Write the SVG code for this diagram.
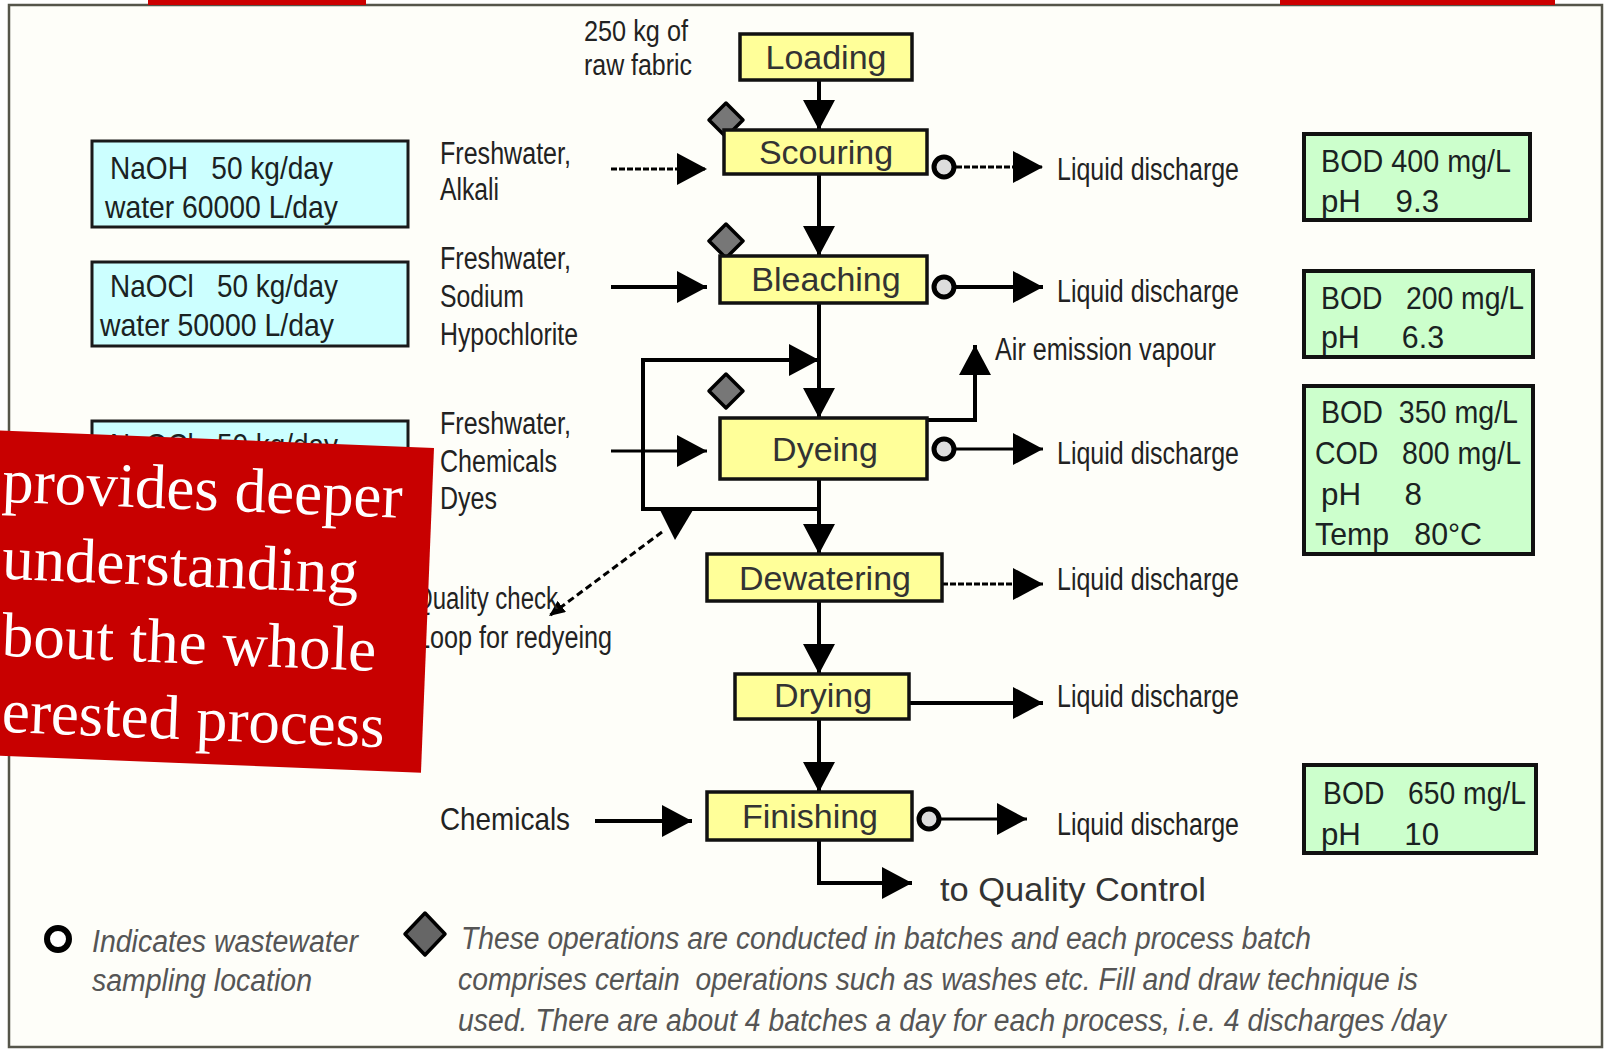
<svg xmlns="http://www.w3.org/2000/svg" width="1606" height="1051" viewBox="0 0 1606 1051">
<defs>
<style>
.frame{fill:#fefef9;stroke:#55554a;stroke-width:2.5}
.proc{fill:#ffff99;stroke:#111;stroke-width:3.5}
.ptxt{font-family:"Liberation Sans",Arial,sans-serif;font-size:34px;fill:#333;text-anchor:middle}
.lbl{font-family:"Liberation Sans",Arial,sans-serif;font-size:31px;fill:#222}
.blue{fill:#ccffff;stroke:#1a1a1a;stroke-width:3}
.green{fill:#ccffcc;stroke:#111;stroke-width:4}
.btxt{font-family:"Liberation Sans",Arial,sans-serif;font-size:32px;fill:#1a2222}
.leg{font-family:"Liberation Sans",Arial,sans-serif;font-size:31px;font-style:italic;fill:#555}
.conn{stroke:#000;stroke-width:4;fill:none}
.thin{stroke-width:3}
.dash{stroke-dasharray:6 2;stroke-width:3}
.ring{fill:#ddd;stroke:#000;stroke-width:5}
.dia{fill:#777;stroke:#000;stroke-width:3.5;stroke-linejoin:round}
.over{font-family:"Liberation Serif","Times New Roman",serif;font-size:63px;fill:#fff}
</style>
<marker id="ah" viewBox="0 0 30 32" refX="30" refY="16" markerWidth="30" markerHeight="32" markerUnits="userSpaceOnUse" orient="auto"><path d="M0,0 L30,16 L0,32 Z" fill="#000"/></marker>
<marker id="ahs" viewBox="0 0 16 14" refX="16" refY="7" markerWidth="16" markerHeight="14" markerUnits="userSpaceOnUse" orient="auto"><path d="M0,0 L16,7 L0,14 Z" fill="#000"/></marker>
</defs>
<rect x="0" y="0" width="1606" height="1051" fill="#fff"/>
<rect class="frame" x="9" y="5" width="1593" height="1042"/>
<rect x="148" y="0" width="218" height="5" fill="#cc0000"/>
<rect x="1280" y="0" width="275" height="5" fill="#cc0000"/>

<g id="connectors">
<path class="conn" d="M819,80 V130" marker-end="url(#ah)"/>
<path class="conn" d="M819,174 V256" marker-end="url(#ah)"/>
<path class="conn" d="M819,303 V418" marker-end="url(#ah)"/>
<path class="conn" d="M819,479 V554" marker-end="url(#ah)"/>
<path class="conn" d="M819,509 H643 V360 H819" marker-end="url(#ah)"/>
<path class="conn" d="M819,601 V674" marker-end="url(#ah)"/>
<path class="conn" d="M819,719 V792" marker-end="url(#ah)"/>
<path class="conn" d="M819,840 V883 H912" marker-end="url(#ah)"/>
<path class="conn" d="M927,420 H975 V345" marker-end="url(#ah)"/>
<path class="conn dash" d="M611,169 H707" marker-end="url(#ah)"/>
<path class="conn" d="M611,287 H707" marker-end="url(#ah)"/>
<path class="conn thin" d="M611,451 H707" marker-end="url(#ah)"/>
<path class="conn" d="M595,821 H692" marker-end="url(#ah)"/>
<path class="conn dash" d="M956,167 H1043" marker-end="url(#ah)"/>
<path class="conn" d="M956,287 H1043" marker-end="url(#ah)"/>
<path class="conn thin" d="M956,449 H1043" marker-end="url(#ah)"/>
<path class="conn dash" d="M942,584 H1043" marker-end="url(#ah)"/>
<path class="conn" d="M909,703 H1043" marker-end="url(#ah)"/>
<path class="conn thin" d="M941,819 H1027" marker-end="url(#ah)"/>
<path class="conn" d="M662,532 L549,616" style="stroke-width:3;stroke-dasharray:7 4" marker-end="url(#ahs)"/>
<polygon points="660,510 693,510 675,540" fill="#000"/>
</g>

<g id="sampling-points">
<circle class="ring" cx="944" cy="167" r="10"/>
<circle class="ring" cx="944" cy="287" r="10"/>
<circle class="ring" cx="944" cy="449" r="10"/>
<circle class="ring" cx="929" cy="819" r="10"/>
</g>

<g id="batch-markers">
<polygon class="dia" points="726,103 743,120 726,137 709,120"/>
<polygon class="dia" points="726,224 743,241 726,258 709,241"/>
<polygon class="dia" points="726,374 743,391 726,408 709,391"/>
</g>

<g id="loading"><rect class="proc" x="740" y="34" width="172" height="46"/><text class="ptxt" x="826" y="69">Loading</text></g>
<g id="scouring"><rect class="proc" x="724" y="130" width="203" height="44"/><text class="ptxt" x="826" y="164">Scouring</text></g>
<g id="bleaching"><rect class="proc" x="720" y="256" width="207" height="47"/><text class="ptxt" x="826" y="291">Bleaching</text></g>
<g id="dyeing"><rect class="proc" x="720" y="418" width="207" height="61"/><text class="ptxt" x="825" y="461">Dyeing</text></g>
<g id="dewatering"><rect class="proc" x="707" y="554" width="235" height="47"/><text class="ptxt" x="825" y="590">Dewatering</text></g>
<g id="drying"><rect class="proc" x="735" y="674" width="174" height="45"/><text class="ptxt" x="823" y="707">Drying</text></g>
<g id="finishing"><rect class="proc" x="707" y="792" width="205" height="48"/><text class="ptxt" x="810" y="828">Finishing</text></g>

<g id="input-naoh"><rect class="blue" x="92" y="141" width="316" height="86"/>
<text class="btxt" x="110" y="179" textLength="223" lengthAdjust="spacingAndGlyphs">NaOH&#160;&#160; 50 kg/day</text>
<text class="btxt" x="105" y="218" textLength="233" lengthAdjust="spacingAndGlyphs">water 60000 L/day</text></g>
<g id="input-naocl"><rect class="blue" x="92" y="262" width="316" height="84"/>
<text class="btxt" x="110" y="297" textLength="228" lengthAdjust="spacingAndGlyphs">NaOCl&#160;&#160; 50 kg/day</text>
<text class="btxt" x="100" y="336" textLength="234" lengthAdjust="spacingAndGlyphs">water 50000 L/day</text></g>
<g id="input-dyeing"><rect class="blue" x="92" y="421" width="316" height="86"/>
<text class="btxt" x="110" y="456" textLength="228" lengthAdjust="spacingAndGlyphs">NaOCl&#160;&#160; 50 kg/day</text></g>

<g id="quality-scouring"><rect class="green" x="1304" y="134" width="226" height="86"/>
<text class="btxt" x="1321" y="172" textLength="190" lengthAdjust="spacingAndGlyphs">BOD 400 mg/L</text>
<text class="btxt" x="1321" y="212" textLength="118" lengthAdjust="spacingAndGlyphs">pH&#160;&#160;&#160; 9.3</text></g>
<g id="quality-bleaching"><rect class="green" x="1304" y="271" width="229" height="86"/>
<text class="btxt" x="1321" y="309" textLength="203" lengthAdjust="spacingAndGlyphs">BOD&#160;&#160; 200 mg/L</text>
<text class="btxt" x="1321" y="348" textLength="123" lengthAdjust="spacingAndGlyphs">pH&#160;&#160;&#160;&#160; 6.3</text></g>
<g id="quality-dyeing"><rect class="green" x="1304" y="386" width="229" height="168"/>
<text class="btxt" x="1321" y="423" textLength="197" lengthAdjust="spacingAndGlyphs">BOD&#160; 350 mg/L</text>
<text class="btxt" x="1315" y="464" textLength="206" lengthAdjust="spacingAndGlyphs">COD&#160;&#160; 800 mg/L</text>
<text class="btxt" x="1321" y="505" textLength="101" lengthAdjust="spacingAndGlyphs">pH&#160;&#160;&#160;&#160; 8</text>
<text class="btxt" x="1315" y="545" textLength="167" lengthAdjust="spacingAndGlyphs">Temp&#160;&#160; 80°C</text></g>
<g id="quality-finishing"><rect class="green" x="1304" y="765" width="232" height="88"/>
<text class="btxt" x="1323" y="804" textLength="203" lengthAdjust="spacingAndGlyphs">BOD&#160;&#160; 650 mg/L</text>
<text class="btxt" x="1321" y="845" textLength="118" lengthAdjust="spacingAndGlyphs">pH&#160;&#160;&#160;&#160; 10</text></g>

<g id="labels">
<text class="lbl" x="584" y="41" style="font-size:29px" textLength="104" lengthAdjust="spacingAndGlyphs">250 kg of</text>
<text class="lbl" x="584" y="75" style="font-size:29px" textLength="108" lengthAdjust="spacingAndGlyphs">raw fabric</text>
<text class="lbl" x="440" y="164" textLength="131" lengthAdjust="spacingAndGlyphs">Freshwater,</text>
<text class="lbl" x="440" y="200" textLength="59" lengthAdjust="spacingAndGlyphs">Alkali</text>
<text class="lbl" x="440" y="269" textLength="131" lengthAdjust="spacingAndGlyphs">Freshwater,</text>
<text class="lbl" x="440" y="307" textLength="84" lengthAdjust="spacingAndGlyphs">Sodium</text>
<text class="lbl" x="440" y="345" textLength="138" lengthAdjust="spacingAndGlyphs">Hypochlorite</text>
<text class="lbl" x="440" y="434" textLength="131" lengthAdjust="spacingAndGlyphs">Freshwater,</text>
<text class="lbl" x="440" y="472" textLength="117" lengthAdjust="spacingAndGlyphs">Chemicals</text>
<text class="lbl" x="440" y="509" textLength="57" lengthAdjust="spacingAndGlyphs">Dyes</text>
<text class="lbl" x="414" y="609" textLength="144" lengthAdjust="spacingAndGlyphs">Quality check</text>
<text class="lbl" x="416" y="648" textLength="196" lengthAdjust="spacingAndGlyphs">Loop for redyeing</text>
<text class="lbl" x="440" y="830" style="font-size:32px" textLength="130" lengthAdjust="spacingAndGlyphs">Chemicals</text>
<text class="lbl" x="1057" y="180" textLength="182" lengthAdjust="spacingAndGlyphs">Liquid discharge</text>
<text class="lbl" x="1057" y="302" textLength="182" lengthAdjust="spacingAndGlyphs">Liquid discharge</text>
<text class="lbl" x="1057" y="464" textLength="182" lengthAdjust="spacingAndGlyphs">Liquid discharge</text>
<text class="lbl" x="1057" y="590" textLength="182" lengthAdjust="spacingAndGlyphs">Liquid discharge</text>
<text class="lbl" x="1057" y="707" textLength="182" lengthAdjust="spacingAndGlyphs">Liquid discharge</text>
<text class="lbl" x="1057" y="835" textLength="182" lengthAdjust="spacingAndGlyphs">Liquid discharge</text>
<text class="lbl" x="995" y="360" textLength="221" lengthAdjust="spacingAndGlyphs">Air emission vapour</text>
<text class="lbl" x="940" y="901" style="font-size:34px;fill:#333" textLength="266" lengthAdjust="spacingAndGlyphs">to Quality Control</text>
</g>

<g id="legend">
<circle cx="58" cy="939" r="11" fill="#fff" stroke="#000" stroke-width="6"/>
<text class="leg" x="92" y="952" textLength="266" lengthAdjust="spacingAndGlyphs">Indicates wastewater</text>
<text class="leg" x="92" y="991" textLength="220" lengthAdjust="spacingAndGlyphs">sampling location</text>
<polygon class="dia" points="425,913 445,934 425,955 405,934" style="fill:#666"/>
<text class="leg" x="461" y="949" textLength="850" lengthAdjust="spacingAndGlyphs">These operations are conducted in batches and each process batch</text>
<text class="leg" x="458" y="990" textLength="960" lengthAdjust="spacingAndGlyphs">comprises certain&#160; operations such as washes etc. Fill and draw technique is</text>
<text class="leg" x="458" y="1031" textLength="988" lengthAdjust="spacingAndGlyphs">used. There are about 4 batches a day for each process, i.e. 4 discharges /day</text>
</g>

<g id="overlay" transform="rotate(2.3 434 448)">
<rect x="-30" y="448" width="464" height="325" fill="#c80000"/>
<text class="over" x="4" y="519">provides deeper</text>
<text class="over" x="7" y="596">understanding</text>
<text class="over" x="10" y="673">bout the whole</text>
<text class="over" x="13" y="749">erested process</text>
</g>
</svg>
